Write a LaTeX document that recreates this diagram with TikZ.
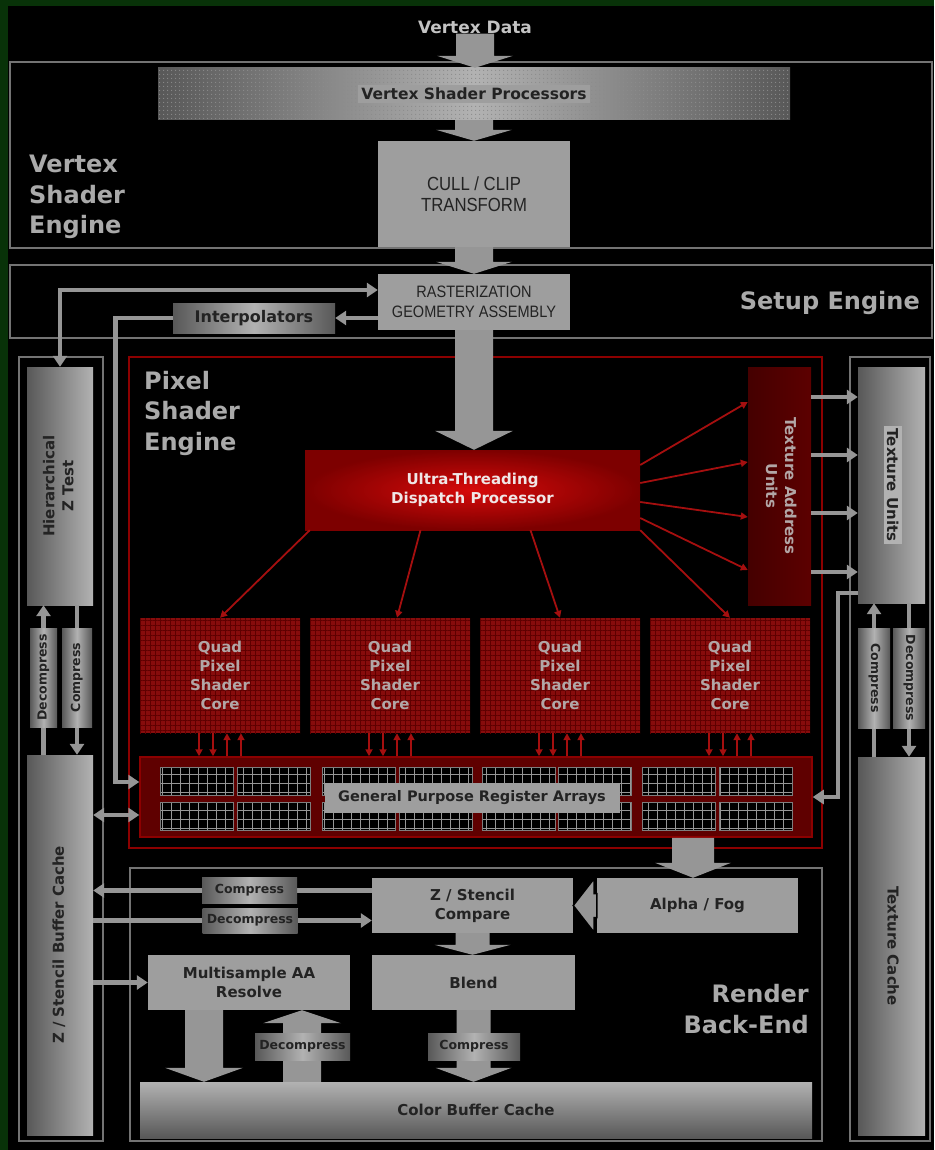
\documentclass[tikz,border=0pt]{standalone}
\usepackage{fontspec}
\setmainfont{DejaVu Sans}
\newfontfamily\narrowfont[FakeStretch=0.88]{Liberation Sans}
\usepackage{graphicx}
\usetikzlibrary{arrows.meta,calc,patterns.meta}
\definecolor{BgGreen}{RGB}{8,50,8}
\definecolor{FrameGray}{RGB}{115,115,115}
\definecolor{TitleGray}{RGB}{170,170,170}
\definecolor{DataGray}{RGB}{195,195,195}
\definecolor{BoxGray}{RGB}{158,158,158}
\definecolor{BoxText}{RGB}{35,35,35}
\definecolor{ArrowGray}{RGB}{150,150,150}
\definecolor{ShadeDark}{RGB}{88,88,88}
\definecolor{ShadeLight}{RGB}{178,178,178}
\definecolor{FrameRed}{RGB}{140,0,0}
\definecolor{WireRed}{RGB}{165,15,15}
\definecolor{BrightRed}{RGB}{215,10,10}
\definecolor{DeepRed}{RGB}{125,0,0}
\definecolor{CoreRed}{RGB}{135,12,12}
\definecolor{CoreGrid}{RGB}{95,0,0}
\definecolor{TauRed}{RGB}{92,0,0}
\definecolor{GprRed}{RGB}{95,0,0}
\definecolor{CellGray}{RGB}{125,125,125}
\definecolor{CoreText}{RGB}{178,166,166}
\definecolor{UtText}{RGB}{240,230,230}

\newcommand{\boxfont}{\bfseries\fontsize{15}{19}\selectfont}
\newcommand{\packfont}{\bfseries\fontsize{12.5}{15}\selectfont}
\newcommand{\uptext}[1]{\rotatebox{90}{\begin{tabular}{@{}c@{}}#1\end{tabular}}}
\newcommand{\downtext}[1]{\rotatebox{-90}{\begin{tabular}{@{}c@{}}#1\end{tabular}}}

% fat block arrows: start, tip, shaft half width, head half width, head length
\newcommand{\fatdown}[5]{%
  \fill[ArrowGray] let \p1=(#1), \p2=(#2) in
    (\x1-#3,\y1) -- (\x1+#3,\y1) -- (\x1+#3,\y2+#5) -- (\x1+#4,\y2+#5)
    -- (\x1,\y2) -- (\x1-#4,\y2+#5) -- (\x1-#3,\y2+#5) -- cycle;}
\newcommand{\fatup}[5]{%
  \fill[ArrowGray] let \p1=(#1), \p2=(#2) in
    (\x1-#3,\y1) -- (\x1+#3,\y1) -- (\x1+#3,\y2-#5) -- (\x1+#4,\y2-#5)
    -- (\x1,\y2) -- (\x1-#4,\y2-#5) -- (\x1-#3,\y2-#5) -- cycle;}
\newcommand{\fatleft}[5]{%
  \filldraw[ArrowGray, draw=black, line width=1.5pt] let \p1=(#1), \p2=(#2) in
    (\x1,\y1+#3) -- (\x2+#5,\y1+#3) -- (\x2+#5,\y1+#4) -- (\x2,\y1)
    -- (\x2+#5,\y1-#4) -- (\x2+#5,\y1-#3) -- (\x1,\y1-#3) -- cycle;}

\tikzset{
  secframe/.style={draw=FrameGray, line width=1.6pt},
  redframe/.style={draw=FrameRed, line width=1.6pt},
  title/.style={text=TitleGray, font=\bfseries\fontsize{24}{30.5}\selectfont, inner sep=0},
  box/.style={fill=BoxGray, text=BoxText, font=\boxfont, align=center, inner sep=0},
  hshade/.style={box, left color=ShadeDark, right color=ShadeLight},
  barshade/.style={box, left color=ShadeDark, right color=ShadeDark, middle color=ShadeLight},
  packbox/.style={barshade, font=\packfont},
  coreblock/.style={box, text=CoreText, fill=CoreRed, minimum width=160, minimum height=115,
    postaction={pattern={Hatch[distance=5pt,angle=0,line width=.6pt]}, pattern color=CoreGrid}},
  conn/.style={draw=ArrowGray, line width=4.5pt, -{Triangle[width=14pt,length=11pt]}},
  biconn/.style={conn, {Triangle[width=14pt,length=11pt]}-{Triangle[width=14pt,length=11pt]}},
  redwire/.style={draw=WireRed, line width=1.8pt, -{Triangle[width=7pt,length=7pt]}},
}

\begin{document}
\begin{tikzpicture}[x=1pt,y=-1pt]
    \useasboundingbox (0,0) rectangle (934,1150);
    % Background with green rim
    \fill[BgGreen] (0,0) rectangle (934,1150);
    \fill[black] (8,6) rectangle (934,1150);

    % Engine frames
    \draw[secframe] (10,62) rectangle (932,248);
    \draw[secframe] (10,265) rectangle (932,338);
    \draw[secframe] (19,357) rectangle (103,1141);
    \draw[secframe] (850,357) rectangle (930,1141);
    \draw[redframe] (129,357) rectangle (822,848);
    \draw[secframe] (130,868) rectangle (822,1141);

    % Titles
    \node[title, anchor=west, align=left] (vsetitle) at (29,197) {Vertex\\Shader\\Engine};
    \node[title, anchor=east] (setuptitle) at (920,303) {Setup Engine};
    \node[title, anchor=west, align=left] (psetitle) at (144,413) {Pixel\\Shader\\Engine};
    \node[title, anchor=east, align=right] (rbetitle) at (809,1009) {Render\\Back-End};

    % Vertex and setup blocks
    \node[text=DataGray, font=\bfseries\fontsize{17}{20}\selectfont, inner sep=0] (vdata) at (475,27) {Vertex Data};
    \node[barshade, minimum width=632, minimum height=52, font=\bfseries\fontsize{15.5}{19}\selectfont,
      postaction={pattern={Dots[distance=4pt,radius=.7pt]}, pattern color=black!45}] (vsp) at (474,94)
      {\colorbox{BoxGray}{Vertex Shader Processors}};
    \node[box, font=\narrowfont\fontsize{19}{21}\selectfont, minimum width=192, minimum height=106] (cull) at (474,194) {CULL / CLIP\\TRANSFORM};
    \node[box, font=\narrowfont\fontsize{16.5}{20}\selectfont, minimum width=192, minimum height=56] (raster) at (474,302) {RASTERIZATION\\GEOMETRY ASSEMBLY};
    \node[barshade, font=\bfseries\fontsize{16}{19}\selectfont, minimum width=162, minimum height=30] (interp) at (254,318) {Interpolators};

    % Left column
    \node[hshade, minimum width=66, minimum height=238] (hierz) at (60,486) {\uptext{Hierarchical\\Z Test}};
    \node[hshade, minimum width=66, minimum height=380] (zcache) at (60,945) {\uptext{Z / Stencil Buffer Cache}};

    % Right column
    \node[hshade, minimum width=67, minimum height=236] (texu) at (891.5,485) {\downtext{\colorbox{ShadeLight}{Texture Units}}};
    \node[hshade, minimum width=67, minimum height=378] (texc) at (891.5,946) {\downtext{Texture Cache}};

    % Pixel shader engine
    \node[box, text=UtText, inner color=BrightRed, outer color=DeepRed, minimum width=335, minimum height=80] (utdp) at (472.5,490) {Ultra-Threading\\Dispatch Processor};
    \node[box, text=CoreText, left color=TauRed!75!black, right color=TauRed, minimum width=63, minimum height=238] (tau) at (779.5,486) {\downtext{Texture Address\\Units}};
    \foreach \k/\cx in {1/220,2/390,3/560,4/730} {
        \node[coreblock] (core\k) at (\cx,675.5) {Quad\\Pixel\\Shader\\Core};
    }
    \node[fill=GprRed, draw=FrameRed, line width=1.5pt, minimum width=672, minimum height=80, inner sep=0] (gpr) at (476,797) {};
    % register cells
    \foreach \cx in {160,237,322,399,482,558,642,719} {
        \foreach \cy in {767,802} {
            \fill[black] (\cx,\cy) rectangle (\cx+73,\cy+28);
            \draw[CellGray!80, line width=.5pt, step=9pt] (\cx,\cy+28) grid (\cx+73,\cy);
            \draw[CellGray, line width=1pt] (\cx,\cy) rectangle (\cx+73,\cy+28);
        }
    }
    \node[box, font=\bfseries\fontsize{14.5}{17}\selectfont, minimum width=295, minimum height=30] (gprlabel) at (472,798) {General Purpose Register Arrays};

    % Render back-end
    \node[box, minimum width=201, minimum height=55] (alpha) at (697.5,905.5) {Alpha / Fog};
    \node[box, minimum width=201, minimum height=55] (zcomp) at (472.5,905.5) {Z / Stencil\\Compare};
    \node[box, minimum width=203, minimum height=55] (blend) at (473.5,982.5) {Blend};
    \node[box, minimum width=202, minimum height=55] (msaa) at (249,982.5) {Multisample AA\\Resolve};
    \node[box, top color=ShadeLight, bottom color=ShadeDark, minimum width=672, minimum height=56] (colorbuf) at (476,1110) {Color Buffer Cache};

    % Fat arrows
    \fatdown{vdata.south}{vsp.north}{19pt}{38pt}{12pt}
    \fatdown{vsp.south}{cull.north}{19pt}{38pt}{11pt}
    \fatdown{cull.south}{raster.north}{19pt}{38pt}{12pt}
    \fatdown{raster.south}{utdp.north}{19pt}{39pt}{19pt}
    \fatdown{[xshift=217pt]gpr.south}{alpha.north}{21pt}{38pt}{15pt}
    \fatleft{alpha.west}{zcomp.east}{12pt}{27pt}{21pt}
    \fatdown{zcomp.south}{blend.north}{17pt}{38pt}{10pt}
    \fatdown{blend.south}{colorbuf.north}{17pt}{38pt}{14pt}
    \fatdown{[xshift=-45pt]msaa.south}{colorbuf.north}{19pt}{39pt}{14pt}
    \fatup{[xshift=53pt]msaa.south |- colorbuf.north}{msaa.south}{19pt}{39pt}{13pt}

    % Setup connectors
    \draw[conn] (raster.west |- interp.east) -- (interp.east);
    \draw[conn] (interp.west) -| ([xshift=-24pt,yshift=15pt]gpr.west) -- ([yshift=15pt]gpr.west);
    \draw[biconn] (hierz.north) |- ([yshift=12pt]raster.west);

    % Left column connectors
    \draw[conn] ([xshift=-16.5pt]zcache.north) -- ([xshift=-16.5pt]hierz.south);
    \draw[conn] ([xshift=17pt]hierz.south) -- ([xshift=17pt]zcache.north);
    \coordinate (gprlow) at ([yshift=-18pt]gpr.west);
    \draw[biconn] (zcache.east |- gprlow) -- (gprlow);
    \draw[conn] ([yshift=15pt]zcomp.west) -- ([yshift=15pt]zcomp.west -| zcache.east);
    \draw[conn] ([yshift=-15pt]zcomp.west -| zcache.east) -- ([yshift=-15pt]zcomp.west);
    \draw[conn] (zcache.east |- msaa.west) -- (msaa.west);

    % Right column connectors
    \foreach \dy in {89,31,-27,-86} {
        \draw[conn] ([yshift=\dy pt]tau.east) -- ([yshift=\dy pt]tau.east -| texu.west);
    }
    \draw[conn] ([yshift=-108pt]texu.west) -| ([xshift=25pt]gpr.east) -- (gpr.east);
    \draw[conn] ([xshift=-17.5pt]texc.north) -- ([xshift=-17.5pt]texu.south);
    \draw[conn] ([xshift=17.5pt]texu.south) -- ([xshift=17.5pt]texc.north);

    % Dispatch wires
    \draw[redwire] ([xshift=5pt]utdp.south west) -- (core1.north);
    \draw[redwire] ([xshift=-52pt]utdp.south) -- ([xshift=7pt]core2.north);
    \draw[redwire] ([xshift=58pt]utdp.south) -- (core3.north);
    \draw[redwire] (utdp.south east) -- (core4.north);
    \foreach \a/\b in {25/84,7/24,-12/-31,-28/-84} {
        \draw[redwire] ([yshift=\a pt]utdp.east) -- ([yshift=\b pt]tau.west);
    }
    \foreach \k in {1,...,4} {
        \foreach \dx in {-21,-7} {
            \draw[redwire] ([xshift=\dx pt]core\k.south) -- ([xshift=\dx pt]core\k.south |- gpr.north);
        }
        \foreach \dx in {7,21} {
            \draw[redwire] ([xshift=\dx pt]core\k.south |- gpr.north) -- ([xshift=\dx pt]core\k.south);
        }
    }

    % Compress / decompress packs
    \node[packbox, minimum width=27, minimum height=99] (ldec) at (43.5,677.5) {\uptext{Decompress}};
    \node[packbox, minimum width=30, minimum height=99] (lcomp) at (77,677.5) {\uptext{Compress}};
    \node[packbox, minimum width=32, minimum height=100] (rcomp) at (874,678) {\downtext{Compress}};
    \node[packbox, minimum width=32, minimum height=100] (rdec) at (909,678) {\downtext{Decompress}};
    \node[packbox, minimum width=95, minimum height=26] (becomp) at (249.5,890) {Compress};
    \node[packbox, minimum width=95, minimum height=25] (bedec) at (250,920.5) {Decompress};
    \node[packbox, minimum width=95, minimum height=27] (msdec) at (302.5,1046.5) {Decompress};
    \node[packbox, minimum width=92, minimum height=27] (blcomp) at (474,1046.5) {Compress};
\end{tikzpicture}
\end{document}
